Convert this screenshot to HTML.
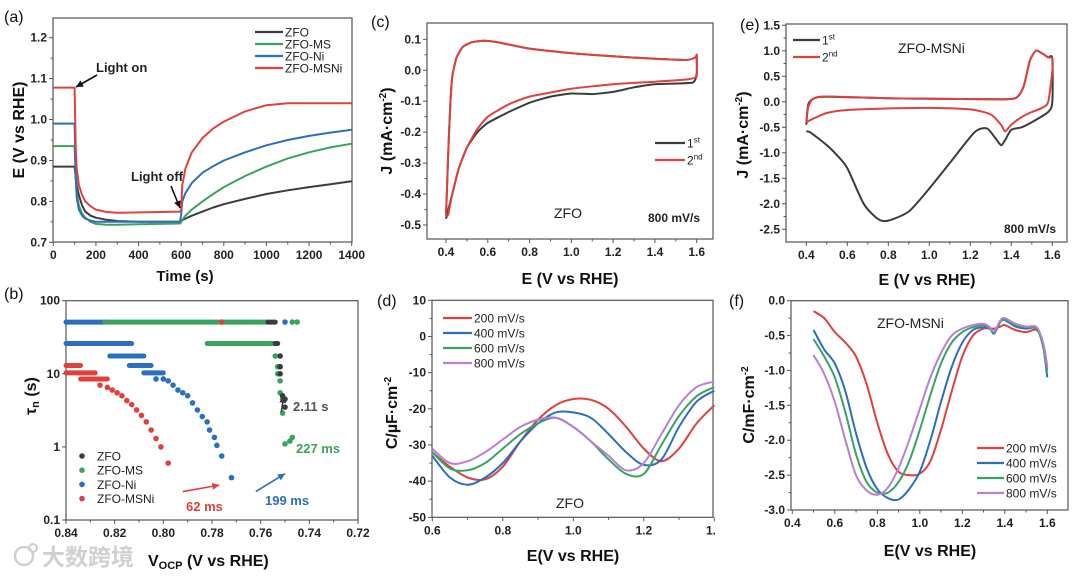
<!DOCTYPE html>
<html><head><meta charset="utf-8"><style>
html,body{margin:0;padding:0;background:#fff;}
svg{display:block;font-family:"Liberation Sans","Noto Sans CJK SC",sans-serif;}
.tk{font-size:12px;font-weight:bold;fill:#222;}
.at{font-size:16px;font-weight:bold;fill:#111;}
.pl{font-size:16px;fill:#111;}
.lg{font-size:12px;fill:#222;}
</style></head><body>
<svg id="fig" width="1080" height="577" viewBox="0 0 1080 577" xmlns="http://www.w3.org/2000/svg"></svg>
<script>
// ---------- DATA ----------
// (a) open-circuit potential transient
const aTime=[0,95,100,105,110,120,135,150,175,200,250,300,400,500,595,600,605,620,650,700,750,800,900,1000,1100,1200,1300,1400];
const aZFO=[0.885,0.885,0.885,0.86,0.84,0.815,0.79,0.775,0.765,0.76,0.755,0.752,0.75,0.75,0.75,0.752,0.754,0.758,0.765,0.775,0.785,0.793,0.806,0.818,0.827,0.835,0.842,0.849];
const aMS=[0.935,0.935,0.935,0.86,0.82,0.79,0.77,0.76,0.75,0.745,0.743,0.743,0.744,0.745,0.746,0.75,0.755,0.765,0.78,0.80,0.818,0.835,0.862,0.885,0.905,0.92,0.932,0.941];
const aNi=[0.99,0.99,0.99,0.86,0.81,0.78,0.765,0.758,0.753,0.75,0.75,0.75,0.75,0.75,0.75,0.77,0.80,0.82,0.845,0.87,0.886,0.90,0.92,0.937,0.95,0.96,0.968,0.975];
const aMSNi=[1.078,1.078,1.078,0.93,0.88,0.84,0.815,0.80,0.788,0.78,0.774,0.772,0.773,0.774,0.775,0.78,0.84,0.88,0.92,0.955,0.978,0.995,1.02,1.035,1.04,1.04,1.04,1.04];
const aXTicks=[0,200,400,600,800,1000,1200,1400];
const aYTicks=[0.7,0.8,0.9,1.0,1.1,1.2];
// (b) lifetime: dense rows [vStart, vEnd, tau, series]
const bRows=[[0.84,0.824,51,'Ni'],[0.824,0.757,51,'MS'],[0.757,0.754,51,'ZFO'],[0.84,0.813,26,'Ni'],[0.782,0.754,26,'MS'],[0.754,0.753,26,'ZFO'],
[0.822,0.808,17.5,'Ni'],[0.814,0.805,13,'Ni'],[0.808,0.800,10.3,'Ni'],[0.84,0.834,13,'MSNi'],[0.84,0.828,10.3,'MSNi'],[0.834,0.823,8.5,'MSNi']];
const bNiV=[0.776,0.750,0.803,0.800,0.798,0.796,0.794,0.792,0.790,0.788,0.786,0.784,0.782,0.781,0.779,0.778,0.776,0.772];
const bNiT=[51,51,8.5,8.5,8,7,6,5.5,5,4,3.2,2.6,2.2,1.7,1.35,1.05,0.75,0.38];
const bMSNiV=[0.776,0.826,0.823,0.821,0.819,0.817,0.815,0.813,0.811,0.809,0.807,0.805,0.803,0.801,0.798];
const bMSNiT=[51,7,6.5,6,5.5,5,4.3,3.8,3.2,2.7,2.2,1.7,1.3,1.0,0.6];
const bMSV=[0.747,0.745,0.754,0.753,0.753,0.752,0.752,0.751,0.751,0.750,0.748,0.747];
const bMST=[51,51,17.5,12.5,10,8,5.5,4.5,2.9,1.1,1.2,1.35];
const bZFOV=[0.752,0.752,0.752,0.751,0.750,0.750];
const bZFOT=[17.5,12.5,10,5,4.5,3.5];
const bXTicks=[0.84,0.82,0.80,0.78,0.76,0.74,0.72];
const bYTicks=[0.1,1,10,100];
// (c) CV ZFO
const cUpX=[0.40,0.405,0.41,0.42,0.43,0.45,0.48,0.52,0.58,0.65,0.8,1.0,1.2,1.4,1.55,1.59,1.6];
const cUpY=[-0.47,-0.38,-0.28,-0.12,-0.02,0.04,0.075,0.09,0.095,0.09,0.07,0.055,0.045,0.037,0.033,0.04,0.048];
const c2LoX=[1.6,1.6,1.55,1.4,1.2,1.0,0.8,0.7,0.6,0.55,0.5,0.46,0.43,0.41];
const c2LoY=[0.048,-0.02,-0.03,-0.037,-0.045,-0.06,-0.085,-0.11,-0.15,-0.19,-0.25,-0.32,-0.40,-0.47];
const c1LoX=[1.6,1.6,1.58,1.4,1.3,1.2,1.1,1.0,0.9,0.8,0.7,0.6,0.55,0.5,0.46,0.43,0.40];
const c1LoY=[0.048,-0.01,-0.04,-0.045,-0.055,-0.07,-0.077,-0.075,-0.085,-0.105,-0.135,-0.17,-0.2,-0.25,-0.32,-0.40,-0.48];
const cXTicks=[0.4,0.6,0.8,1.0,1.2,1.4,1.6];
const cYTicks=[-0.5,-0.4,-0.3,-0.2,-0.1,0.0,0.1];
// (d) capacitance ZFO
const dX=[0.6,0.65,0.7,0.75,0.8,0.85,0.9,0.95,1.0,1.05,1.1,1.15,1.2,1.25,1.3,1.35,1.4];
const d200=[-32,-36,-39,-39.5,-36,-29,-23,-19,-17.3,-17.5,-20,-25,-31,-34.5,-31,-24,-19];
const d400=[-33,-39,-41,-39,-35,-29,-24,-21,-21,-22.5,-27,-32,-35.5,-34,-25,-18,-15];
const d600=[-32,-36.5,-37,-35,-31,-27,-24,-22.5,-25,-29,-34,-38,-38,-30,-22,-16.5,-14];
const d800=[-31,-35,-34.5,-32,-28.5,-25,-23,-22.5,-25,-29,-33,-37,-35,-27,-19,-14,-12.5];
const dXTicks=[0.6,0.8,1.0,1.2,1.4];
const dYTicks=[-50,-40,-30,-20,-10,0,10];
// (e) CV ZFO-MSNi
const e2X=[0.4,0.41,0.43,0.47,0.55,0.8,1.0,1.3,1.42,1.46,1.49,1.52,1.55,1.58,1.6,1.6,1.58,1.55,1.5,1.45,1.4,1.37,1.35,1.3,1.2,1.0,0.8,0.6,0.5,0.44,0.4];
const e2Y=[-0.4,-0.1,0.05,0.1,0.1,0.07,0.06,0.05,0.07,0.3,0.8,1.0,0.95,0.87,0.85,0.6,0.0,-0.12,-0.2,-0.3,-0.45,-0.58,-0.45,-0.25,-0.15,-0.12,-0.13,-0.16,-0.22,-0.32,-0.4];
const e1X=[0.4,0.41,0.44,0.5,0.8,1.0,1.3,1.42,1.46,1.49,1.52,1.55,1.58,1.6,1.6,1.58,1.5,1.45,1.4,1.37,1.35,1.32,1.28,1.22,1.1,1.0,0.9,0.8,0.75,0.68,0.6,0.55,0.5,0.42,0.4];
const e1Y=[-0.45,-0.05,0.07,0.1,0.07,0.06,0.05,0.07,0.3,0.8,1.0,0.95,0.87,0.85,0.0,-0.2,-0.4,-0.5,-0.55,-0.75,-0.85,-0.7,-0.52,-0.6,-1.2,-1.7,-2.15,-2.33,-2.3,-2.0,-1.3,-1.05,-0.85,-0.6,-0.58];
const eXTicks=[0.4,0.6,0.8,1.0,1.2,1.4,1.6];
const eYTicks=[-2.5,-2.0,-1.5,-1.0,-0.5,0.0,0.5,1.0,1.5];
// (f) capacitance ZFO-MSNi
const fX=[0.5,0.55,0.6,0.65,0.7,0.75,0.8,0.85,0.9,0.95,1.0,1.05,1.1,1.15,1.2,1.25,1.3,1.33,1.35,1.38,1.4,1.45,1.5,1.55,1.58,1.6];
const f200=[-0.15,-0.25,-0.45,-0.6,-0.8,-1.2,-1.75,-2.2,-2.45,-2.5,-2.48,-2.3,-1.85,-1.3,-0.8,-0.5,-0.4,-0.4,-0.4,-0.37,-0.35,-0.42,-0.45,-0.42,-0.6,-0.95];
const f400=[-0.42,-0.7,-0.9,-1.3,-1.9,-2.4,-2.7,-2.83,-2.85,-2.7,-2.45,-2.0,-1.45,-0.95,-0.6,-0.42,-0.38,-0.4,-0.47,-0.3,-0.28,-0.37,-0.4,-0.4,-0.65,-1.1];
const f600=[-0.55,-0.8,-1.1,-1.6,-2.2,-2.6,-2.75,-2.75,-2.6,-2.3,-1.85,-1.35,-0.9,-0.6,-0.45,-0.38,-0.35,-0.4,-0.45,-0.3,-0.27,-0.35,-0.38,-0.4,-0.65,-1.0];
const f800=[-0.78,-1.05,-1.45,-2.0,-2.5,-2.72,-2.78,-2.68,-2.4,-2.0,-1.55,-1.1,-0.75,-0.5,-0.4,-0.35,-0.33,-0.38,-0.44,-0.28,-0.25,-0.33,-0.37,-0.38,-0.6,-0.95];
const fXTicks=[0.4,0.6,0.8,1.0,1.2,1.4,1.6];
const fYTicks=[-3.0,-2.5,-2.0,-1.5,-1.0,-0.5,0.0];

// ---------- DRAWING ----------
const NS='http://www.w3.org/2000/svg';
const svg=document.getElementById('fig');
const C={k:'#3c3c3c',g:'#3aa35f',b:'#2a6fc0',r:'#e0403f',p:'#b77fd6'};
function el(tag,attrs,parent,text){const e=document.createElementNS(NS,tag);for(const k in attrs)e.setAttribute(k,attrs[k]);if(text!==undefined)e.textContent=text;(parent||svg).appendChild(e);return e;}
function lin(d0,d1,p0,p1){return v=>p0+(v-d0)*(p1-p0)/(d1-d0);}
function logs(d0,d1,p0,p1){return v=>p0+(Math.log10(v)-Math.log10(d0))*(p1-p0)/(Math.log10(d1)-Math.log10(d0));}
function smooth(pts,t){let d='M'+pts[0][0].toFixed(1)+','+pts[0][1].toFixed(1);for(let i=0;i<pts.length-1;i++){const p0=pts[i-1]||pts[i],p1=pts[i],p2=pts[i+1],p3=pts[i+2]||p2;d+=' C'+(p1[0]+(p2[0]-p0[0])*t).toFixed(1)+','+(p1[1]+(p2[1]-p0[1])*t).toFixed(1)+' '+(p2[0]-(p3[0]-p1[0])*t).toFixed(1)+','+(p2[1]-(p3[1]-p1[1])*t).toFixed(1)+' '+p2[0].toFixed(1)+','+p2[1].toFixed(1);}return d;}
function frame(fr,name){const r=el('rect',{x:fr[0],y:fr[1],width:fr[2]-fr[0],height:fr[3]-fr[1],fill:'none',stroke:'#555','stroke-width':1.2});}
function axes(fr,sx,sy,xt,yt,fx,fy,name,minorX,minorY){
  const g=el('g',{});
  xt.forEach(v=>{const x=sx(v);el('line',{x1:x,x2:x,y1:fr[3],y2:fr[3]+4,stroke:'#555'},g);const t=el('text',{x:x,y:fr[3]+17,'text-anchor':'middle',class:'tk'},g,fx(v));});
  yt.forEach(v=>{const y=sy(v);el('line',{x1:fr[0]-4,x2:fr[0],y1:y,y2:y,stroke:'#555'},g);const t=el('text',{x:fr[0]-6,y:y+4,'text-anchor':'end',class:'tk'},g,fy(v));});
  if(minorX)for(let i=0;i<xt.length-1;i++){const x=(sx(xt[i])+sx(xt[i+1]))/2;el('line',{x1:x,x2:x,y1:fr[3],y2:fr[3]+2.5,stroke:'#555'},g);}
  if(minorY)for(let i=0;i<yt.length-1;i++){const y=(sy(yt[i])+sy(yt[i+1]))/2;el('line',{x1:fr[0]-2.5,x2:fr[0],y1:y,y2:y,stroke:'#555'},g);}
}
function series(xs,ys,sx,sy,color,name,t){const p=el('path',{d:smooth(xs.map((x,i)=>[sx(x),sy(ys[i])]),t===undefined?0.16:t),fill:'none',stroke:color,'stroke-width':2,'stroke-linejoin':'round'});return p;}
function label(x,y,t,cls,name,extra){const e=el('text',Object.assign({x:x,y:y,class:cls},extra||{}),svg,t);return e;}
function legLine(x1,x2,y,color,text,name){const g=el('g',{});el('line',{x1:x1,x2:x2,y1:y,y2:y,stroke:color,'stroke-width':2.2},g);el('text',{x:x2+2,y:y+4.5,class:'lg'},g,text);return g;}
function arrow(x1,y1,x2,y2,color,name){const g=el('g',{});el('line',{x1:x1,y1:y1,x2:x2,y2:y2,stroke:color,'stroke-width':1.6},g);const a=Math.atan2(y2-y1,x2-x1),L=7,W=3.5;const bx=x2-L*Math.cos(a),by=y2-L*Math.sin(a);el('polygon',{points:x2+','+y2+' '+(bx+W*Math.sin(a))+','+(by-W*Math.cos(a))+' '+(bx-W*Math.sin(a))+','+(by+W*Math.cos(a)),fill:color},g);}
const f1=v=>v.toFixed(1);

// ===== (a) =====
{const fr=[53,18,352,242];const sx=lin(0,1400,53.3,351.7),sy=lin(0.7,1.2,242.3,37.7);
frame(fr,'panel-a');axes(fr,sx,sy,aXTicks,aYTicks,v=>String(v),f1,'panel-a',true,true);
series(aTime,aZFO,sx,sy,C.k,'line-zfo',0);series(aTime,aMS,sx,sy,C.g,'line-zfo-ms',0);series(aTime,aNi,sx,sy,C.b,'line-zfo-ni',0);series(aTime,aMSNi,sx,sy,C.r,'line-zfo-msni',0);
legLine(255,283,32,C.k,'ZFO','legend-entry-zfo');legLine(255,283,44,C.g,'ZFO-MS','legend-entry-zfo-ms');legLine(255,283,56,C.b,'ZFO-Ni','legend-entry-zfo-ni');legLine(255,283,68,C.r,'ZFO-MSNi','legend-entry-zfo-msni');
label(96,72,'Light on','lg','light-on-label',{style:'font-weight:bold;font-size:13px'});arrow(97,75,76,87,'#111','light-on-arrow');
label(131,181,'Light off','lg','light-off-label',{style:'font-weight:bold;font-size:13px'});arrow(171,186,180,208,'#111','light-off-arrow');
label(185,281,'Time (s)','at','x-axis-title-a',{'text-anchor':'middle',style:'font-size:15px'});
label(24,130,'E (V vs RHE)','at','y-axis-title-a',{transform:'rotate(-90 24 130)','text-anchor':'middle'});
label(4,22,'(a)','pl','panel-label-a');}

// ===== (b) =====
{const fr=[66,300.7,358,520];const sx=lin(0.84,0.72,66,358),sy=logs(0.1,100,520,300.7);
frame(fr,'panel-b');axes(fr,sx,sy,bXTicks,bYTicks,v=>v.toFixed(2),v=>String(v),'panel-b',true,false);
const cm={Ni:C.b,MS:C.g,ZFO:C.k,MSNi:C.r};
bRows.forEach(r=>{const l=el('line',{x1:sx(r[0]),x2:sx(r[1]),y1:sy(r[2]),y2:sy(r[2]),stroke:cm[r[3]],'stroke-width':5,'stroke-linecap':'round'});});
function dots(vs,ts,col,name){vs.forEach((v,i)=>{const c=el('circle',{cx:sx(v),cy:sy(ts[i]),r:2.8,fill:col});});}
dots(bNiV.slice(1),bNiT.slice(1),C.b,'point-zfo-ni');dots(bMSV,bMST,C.g,'point-zfo-ms');dots(bZFOV,bZFOT,C.k,'point-zfo');dots(bMSNiV,bMSNiT,C.r,'point-zfo-msni');
arrow(sx(0.792),sy(0.245),sx(0.777),sy(0.30),C.r,'arrow-62ms');arrow(sx(0.762),sy(0.245),sx(0.750),sy(0.43),C.b,'arrow-199ms');arrow(sx(0.7515),sy(3.0),sx(0.7505),sy(5),C.k,'arrow-2-11s');
label(293,411,'2.11 s','lg','annotation-2-11s',{style:'font-weight:bold;font-size:13px;fill:#555'});
label(296,453,'227 ms','lg','annotation-227ms',{style:'font-weight:bold;font-size:13px;fill:'+C.g});
label(186,511,'62 ms','lg','annotation-62ms',{style:'font-weight:bold;font-size:13px;fill:'+C.r});
label(265,505,'199 ms','lg','annotation-199ms',{style:'font-weight:bold;font-size:13px;fill:'+C.b});
[[C.k,'ZFO'],[C.g,'ZFO-MS'],[C.b,'ZFO-Ni'],[C.r,'ZFO-MSNi']].forEach((e,i)=>{const y=456+i*14.2;const g=el('g',{});el('circle',{cx:82,cy:y,r:2.8,fill:e[0]},g);el('text',{x:97,y:y+4.5,class:'lg'},g,e[1]);});
const xt=label(148,566,'V','at','x-axis-title-b');el('tspan',{style:'font-size:11px',dy:'3'},xt,'OCP');el('tspan',{dy:'-3'},xt,' (V vs RHE)');
const yt=el('text',{x:0,y:0,class:'at',transform:'translate(36 415) rotate(-90)'},svg,'τ');el('tspan',{style:'font-size:11px',dy:'3'},yt,'n');el('tspan',{dy:'-3'},yt,' (s)');
label(4,299,'(b)','pl','panel-label-b');
const wm=el('g',{});
el('circle',{cx:24,cy:556,r:9,fill:'none',stroke:'#cfcfcf','stroke-width':2.5},wm);el('circle',{cx:33,cy:548,r:4,fill:'none',stroke:'#cfcfcf','stroke-width':2},wm);
el('text',{x:42,y:565,style:'font-size:23px;fill:#d0d0d0;font-weight:bold'},wm,'大数跨境');}

// ===== (c) =====
{const fr=[427,23,713,239];const sx=lin(0.4,1.6,446,696.7),sy=lin(0.1,-0.5,39.3,225);
frame(fr,'panel-c');axes(fr,sx,sy,cXTicks,cYTicks,f1,f1,'panel-c',true,true);
series(cUpX.concat(c1LoX),cUpY.concat(c1LoY),sx,sy,C.k,'cv-1st-cycle',0.08);series(cUpX.concat(c2LoX),cUpY.concat(c2LoY),sx,sy,C.r,'cv-2nd-cycle',0.08);
const g1=legLine(655,685,143,C.k,'1','legend-entry-1st');el('tspan',{style:'font-size:8px',dy:'-5'},g1.lastChild,'st');
const g2=legLine(655,685,160,C.r,'2','legend-entry-2nd');el('tspan',{style:'font-size:8px',dy:'-5'},g2.lastChild,'nd');
label(568,218,'ZFO','lg','sample-label-c',{'text-anchor':'middle',style:'font-size:14px'});label(648,222,'800 mV/s','lg','scan-rate-label-c',{style:'font-weight:bold'});
label(570,284,'E (V vs RHE)','at','x-axis-title-c',{'text-anchor':'middle'});
const yt=el('text',{class:'at',transform:'translate(392 131) rotate(-90)','text-anchor':'middle'},svg,'J (mA·cm');el('tspan',{style:'font-size:10px',dy:'-6'},yt,'-2');el('tspan',{dy:'6'},yt,')');
label(371,27,'(c)','pl','panel-label-c');}

// ===== (d) =====
{const fr=[432,300.3,713,517.3];const sx=lin(0.6,1.4,432.3,714.3),sy=lin(10,-50,300.3,517.3);
frame(fr,'panel-d');axes(fr,sx,sy,dXTicks,dYTicks,f1,v=>String(v),'panel-d',true,true);
series(dX,d200,sx,sy,C.r,'line-200mvs');series(dX,d400,sx,sy,C.b,'line-400mvs');series(dX,d600,sx,sy,C.g,'line-600mvs');series(dX,d800,sx,sy,C.p,'line-800mvs');
legLine(443,472,318,C.r,'200 mV/s','legend-entry-d-200');legLine(443,472,333,C.b,'400 mV/s','legend-entry-d-400');legLine(443,472,348,C.g,'600 mV/s','legend-entry-d-600');legLine(443,472,363,C.p,'800 mV/s','legend-entry-d-800');
label(570,508,'ZFO','lg','sample-label-d',{'text-anchor':'middle',style:'font-size:14px'});
label(573,561,'E(V vs RHE)','at','x-axis-title-d',{'text-anchor':'middle'});
const yt=el('text',{class:'at',transform:'translate(397 413) rotate(-90)','text-anchor':'middle'},svg,'C/µF·cm');el('tspan',{style:'font-size:10px',dy:'-6'},yt,'-2');
label(377,306,'(d)','pl','panel-label-d');}
el('rect',{x:715,y:285,width:365,height:292,fill:'#fff'});

// ===== (e) =====
{const fr=[786,24,1067,242];const sx=lin(0.4,1.6,806.3,1052.3),sy=lin(1.5,-2.5,25.3,229.3);
frame(fr,'panel-e');axes(fr,sx,sy,eXTicks,eYTicks,f1,f1,'panel-e',true,true);
series(e1X,e1Y,sx,sy,C.k,'cv-1st-cycle-e',0.12);series(e2X,e2Y,sx,sy,C.r,'cv-2nd-cycle-e',0.12);
const g1=legLine(793,820,40,C.k,'1','legend-entry-e-1st');el('tspan',{style:'font-size:8px',dy:'-5'},g1.lastChild,'st');
const g2=legLine(793,820,57,C.r,'2','legend-entry-e-2nd');el('tspan',{style:'font-size:8px',dy:'-5'},g2.lastChild,'nd');
label(898,53,'ZFO-MSNi','lg','sample-label-e',{style:'font-size:14px'});label(1004,233,'800 mV/s','lg','scan-rate-label-e',{style:'font-weight:bold'});
label(927,285,'E (V vs RHE)','at','x-axis-title-e',{'text-anchor':'middle'});
const yt=el('text',{class:'at',transform:'translate(748 135) rotate(-90)','text-anchor':'middle'},svg,'J (mA·cm');el('tspan',{style:'font-size:10px',dy:'-6'},yt,'-2');el('tspan',{dy:'6'},yt,')');
label(740,30,'(e)','pl','panel-label-e');}

// ===== (f) =====
{const fr=[791,300.7,1068,510];const sx=lin(0.4,1.6,792.3,1047.3),sy=lin(0,-3,300.7,510);
frame(fr,'panel-f');axes(fr,sx,sy,fXTicks,fYTicks,f1,f1,'panel-f',true,true);
series(fX,f200,sx,sy,C.r,'line-f-200mvs');series(fX,f400,sx,sy,C.b,'line-f-400mvs');series(fX,f600,sx,sy,C.g,'line-f-600mvs');series(fX,f800,sx,sy,C.p,'line-f-800mvs');
legLine(977,1004,448,C.r,'200 mV/s','legend-entry-f-200');legLine(977,1004,463,C.b,'400 mV/s','legend-entry-f-400');legLine(977,1004,478,C.g,'600 mV/s','legend-entry-f-600');legLine(977,1004,493,C.p,'800 mV/s','legend-entry-f-800');
label(877,328,'ZFO-MSNi','lg','sample-label-f',{style:'font-size:14px'});
label(930,556,'E(V vs RHE)','at','x-axis-title-f',{'text-anchor':'middle'});
const yt=el('text',{class:'at',transform:'translate(754 405) rotate(-90)','text-anchor':'middle'},svg,'C/mF·cm');el('tspan',{style:'font-size:10px',dy:'-6'},yt,'-2');
label(729,306,'(f)','pl','panel-label-f');}
</script>
</body></html>
